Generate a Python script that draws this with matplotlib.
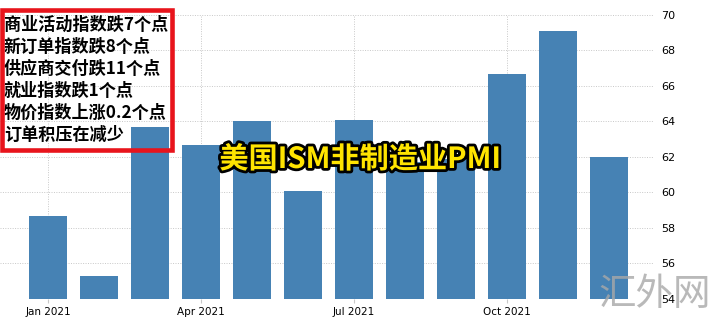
import matplotlib.pyplot as plt
import matplotlib.patheffects as pe
from matplotlib.patches import Rectangle

plt.rcParams['font.family'] = ['Noto Sans CJK SC', 'DejaVu Sans']

months = ['Jan', 'Feb', 'Mar', 'Apr', 'May', 'Jun',
          'Jul', 'Aug', 'Sep', 'Oct', 'Nov', 'Dec']
pmi = [58.7, 55.3, 63.7, 62.7, 64.0, 60.1, 64.1, 61.7, 61.9, 66.7, 69.1, 62.0]
tick_pos = [0, 3, 6, 9]
tick_labels = ['Jan 2021', 'Apr 2021', 'Jul 2021', 'Oct 2021']
y_ticks = [54, 56, 58, 60, 62, 64, 66, 68, 70]
notes = ['商业活动指数跌7个点', '新订单指数跌8个点', '供应商交付跌11个点',
         '就业指数跌1个点', '物价指数上涨0.2个点', '订单积压在减少']
title = '美国ISM非制造业PMI'

fig = plt.figure(figsize=(7.22, 3.25), dpi=100)
ax = fig.add_axes([0.0, 0.08, 0.904, 0.874])

x = list(range(len(months)))
ax.bar(x, [v - 54 for v in pmi], bottom=54, width=0.75, color='#4682b4', zorder=2)

ax.set_xlim(-0.94, 11.86)
ax.set_ylim(54, 70)
ax.set_yticks(y_ticks)
ax.set_xticks(tick_pos)
ax.set_xticklabels(tick_labels, family='DejaVu Sans', fontsize=7.5)
ax.yaxis.tick_right()
for lab in ax.get_yticklabels():
    lab.set_family('DejaVu Sans')
    lab.set_fontsize(8)
ax.tick_params(axis='y', length=0, pad=6)
ax.tick_params(axis='x', length=3, color='#c8c8c8', pad=3)
ax.grid(True, linestyle=(0, (1, 1.5)), color='#c8c8c8', linewidth=0.7, zorder=0)
for s in ax.spines.values():
    s.set_visible(False)

# note box top-left
fig.patches.append(Rectangle((2 / 722, 1 - 150 / 325), 170 / 722, 140 / 325,
                             transform=fig.transFigure, fill=False,
                             edgecolor='#e8141c', linewidth=3.3, zorder=5))
for i, line in enumerate(notes):
    fig.text(4 / 722, 1 - (25 + 22 * i) / 325, line, fontsize=12.3,
             fontweight='bold', va='center', ha='left', color='black')

fig.text(360 / 722, 1 - 159 / 325, title, fontsize=21, fontweight='heavy',
         color='#ffe400', ha='center', va='center',
         path_effects=[pe.withStroke(linewidth=4, foreground='black')])

fig.text(655 / 722, 1 - 294 / 325, '汇外网', fontsize=27, color='#a8a8a8',
         alpha=0.8, ha='center', va='center', fontweight='light')

fig.savefig('out.png', dpi=100)
